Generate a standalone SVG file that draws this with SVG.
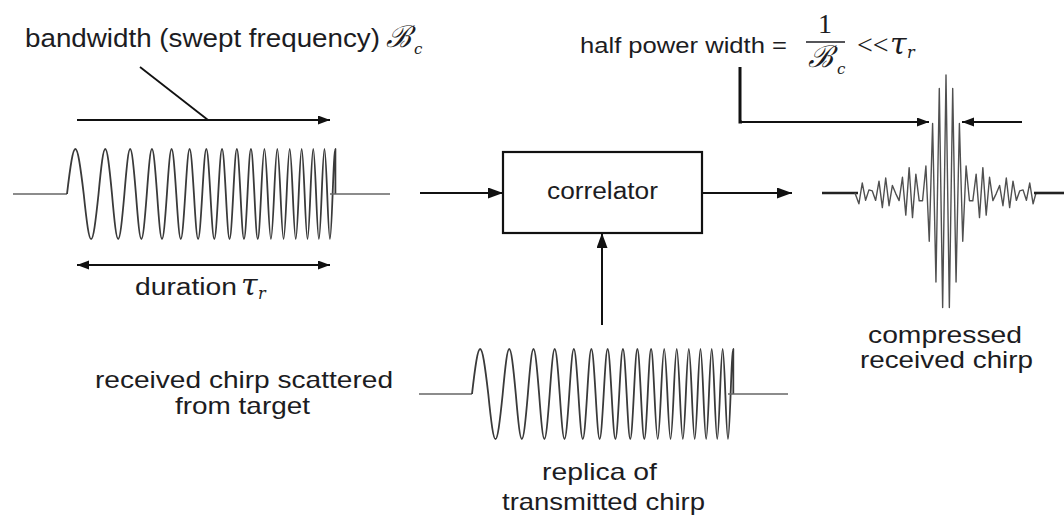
<svg xmlns="http://www.w3.org/2000/svg" xmlns:xlink="http://www.w3.org/1999/xlink" width="1064" height="518" viewBox="0 0 1064 518">
<style>
.lbl{font-family:"Liberation Sans",Arial,sans-serif;fill:#1c1c22;}
.math{font-family:"DejaVu Serif","Liberation Serif",serif;font-style:italic;fill:#1c1c22;}
.mathup{font-family:"Liberation Serif","DejaVu Serif",serif;fill:#1c1c22;}
.wave{fill:none;stroke:#3a3a3a;stroke-width:1.8;stroke-linejoin:round;}
.flat{fill:none;stroke:#666;stroke-width:1.6;}
.conn{fill:none;stroke:#111;stroke-width:2;}
.thin{fill:none;stroke:#111;stroke-width:1.8;}
</style>
<defs>
<marker id="ahL" markerUnits="userSpaceOnUse" markerWidth="16" markerHeight="12" refX="15" refY="5.5" orient="auto-start-reverse"><path d="M0,0 L15,5.5 L0,11 z" fill="#111"/></marker>
<marker id="ahS" markerUnits="userSpaceOnUse" markerWidth="13" markerHeight="10" refX="12" refY="4.5" orient="auto-start-reverse"><path d="M0,0 L12,4.5 L0,9 z" fill="#111"/></marker>
<path id="chirp" class="wave" vector-effect="non-scaling-stroke" d="M0,0 c25.68,-60 34.82,-60 60.5,0 c22.75,60 30.85,60 53.6,0 c20.67,-60 28.03,-60 48.7,0 c19.06,60 25.84,60 44.9,0 c17.74,-60 24.06,-60 41.8,0 c16.68,60 22.62,60 39.3,0 c15.83,-60 21.47,-60 37.3,0 c15.07,60 20.43,60 35.5,0 c14.39,-60 19.51,-60 33.9,0 c13.84,60 18.76,60 32.6,0 c13.28,-60 18.02,-60 31.3,0 c12.82,60 17.38,60 30.2,0 c12.43,-60 16.87,-60 29.3,0 c12.05,60 16.35,60 28.4,0 c11.71,-60 15.89,-60 27.6,0 c11.37,60 15.43,60 26.8,0 c11.08,-60 15.02,-60 26.1,0 c10.82,60 14.68,60 25.5,0 c10.57,-60 14.33,-60 24.9,0 c10.36,60 14.04,60 24.4,0 c10.1,-60 13.7,-60 23.8,0 c9.89,60 13.41,60 23.3,0 c9.72,-60 13.18,-60 22.9,0 c9.51,60 12.89,60 22.4,0 c9.38,-60 12.72,-60 22.1,0 c9.17,60 12.43,60 21.6,0 c9.04,-60 12.26,-60 21.3,0 c8.87,60 12.03,60 20.9,0 c8.74,-60 11.86,-60 20.6,0 c8.62,60 11.68,60 20.3,0 c8.49,-60 11.51,-60 20,0 c8.32,60 11.28,60 19.6,0 c3.34,-23.63 6.4,-45 10,-45 v45"/>
</defs>
<rect width="1064" height="518" fill="#fff"/>

<g id="transmitted-chirp">
<text class="lbl" x="25" y="47" font-size="26" textLength="355" lengthAdjust="spacingAndGlyphs">bandwidth (swept frequency)</text>
<text class="math" x="386" y="47" font-size="30">ℬ</text>
<text class="math" x="414" y="54" font-size="15">c</text>
<line class="thin" x1="140" y1="67" x2="208" y2="120"/>
<line class="thin" x1="77" y1="120" x2="330" y2="120" marker-end="url(#ahS)"/>
<line class="flat" x1="13" y1="194" x2="67" y2="194"/>
<use xlink:href="#chirp" transform="translate(67,194) scale(0.2763,1)"/>
<line class="flat" x1="330" y1="194" x2="390" y2="194"/>
<line class="thin" x1="77" y1="265" x2="330" y2="265" marker-start="url(#ahS)" marker-end="url(#ahS)"/>
<text class="lbl" x="135" y="295" font-size="23" textLength="102" lengthAdjust="spacingAndGlyphs">duration</text>
<text class="math" x="241" y="295" font-size="30">τ</text>
<text class="math" x="258" y="299" font-size="16">r</text>
</g>

<g id="correlator">
<rect x="503" y="152" width="199" height="81" fill="#fff" stroke="#111" stroke-width="2.2"/>
<text class="lbl" x="547" y="199" font-size="23" textLength="111" lengthAdjust="spacingAndGlyphs">correlator</text>
</g>

<g id="replica-chirp">
<text class="lbl" x="95" y="388" font-size="24" textLength="298" lengthAdjust="spacingAndGlyphs">received chirp scattered</text>
<text class="lbl" x="175" y="414" font-size="24" textLength="135" lengthAdjust="spacingAndGlyphs">from target</text>
<line class="flat" x1="419" y1="394" x2="472" y2="394"/>
<use xlink:href="#chirp" transform="translate(472,394) scale(0.269,1)"/>
<line class="flat" x1="728" y1="394" x2="788" y2="394"/>
<text class="lbl" x="542" y="480" font-size="24" textLength="115" lengthAdjust="spacingAndGlyphs">replica of</text>
<text class="lbl" x="502" y="510" font-size="24" textLength="203" lengthAdjust="spacingAndGlyphs">transmitted chirp</text>
</g>

<g id="compressed-chirp">
<text class="lbl" x="580" y="53" font-size="22" textLength="207" lengthAdjust="spacingAndGlyphs">half power width =</text>
<text class="mathup" x="825" y="33" font-size="28" text-anchor="middle">1</text>
<line x1="806" y1="42" x2="845" y2="42" stroke="#1c1c22" stroke-width="1.5"/>
<text class="math" x="808" y="67" font-size="30">ℬ</text>
<text class="math" x="837" y="74" font-size="15">c</text>
<text class="mathup" x="857" y="54" font-size="28">&lt;&lt;</text>
<text class="math" x="890" y="54" font-size="30">τ</text>
<text class="math" x="907" y="58" font-size="16">r</text>
<polyline fill="none" stroke="#111" stroke-width="3" points="740,67 740,122 742,122"/>
<line class="thin" x1="739" y1="122" x2="929" y2="122" marker-end="url(#ahS)"/>
<line class="thin" x1="1022" y1="122" x2="962" y2="122" marker-end="url(#ahS)"/>
<line x1="822" y1="193" x2="858" y2="193" stroke="#222" stroke-width="2.6"/>
<polyline fill="none" stroke="#505050" stroke-width="1.4" stroke-linejoin="round" points="855,193 858.9,203.8 862.25,183 865.6,200.3 868.95,189.9 872.3,190.9 875.65,200.4 879,181.2 882.35,207.6 885.7,178 889.05,205.7 892.4,185.4 895.75,193.6 899.1,200.6 902.45,177.3 905.8,215.1 909.15,167.6 912.5,217.6 915.85,174.2 919.2,200.8 922.55,200.7 925.9,166 929.25,241.3 932.6,123.4 935.95,282 939.3,88.5 942.65,307.6 946,75 949.35,307.6 952.7,88.5 956.05,282 959.4,123.4 962.75,241.3 966.1,166 969.45,200.7 972.8,200.8 976.15,174.2 979.5,217.6 982.85,167.6 986.2,215.1 989.55,177.3 992.9,200.6 996.25,193.6 999.6,185.4 1002.95,205.7 1006.3,178 1009.65,207.6 1013,181.2 1016.35,200.4 1019.7,190.9 1023.05,189.9 1026.4,200.3 1029.75,183 1033.1,203.8 1036,193"/>
<line x1="1034" y1="193" x2="1064" y2="193" stroke="#222" stroke-width="2.6"/>
<text class="lbl" x="868" y="343" font-size="24" textLength="154" lengthAdjust="spacingAndGlyphs">compressed</text>
<text class="lbl" x="860" y="368" font-size="24" textLength="173" lengthAdjust="spacingAndGlyphs">received chirp</text>
</g>

<g id="connectors">
<line class="conn" x1="420" y1="193" x2="503" y2="193" marker-end="url(#ahL)"/>
<line class="conn" x1="702" y1="193" x2="792" y2="193" marker-end="url(#ahL)"/>
<line class="conn" x1="602" y1="325" x2="602" y2="233" marker-end="url(#ahL)"/>
</g>
</svg>
